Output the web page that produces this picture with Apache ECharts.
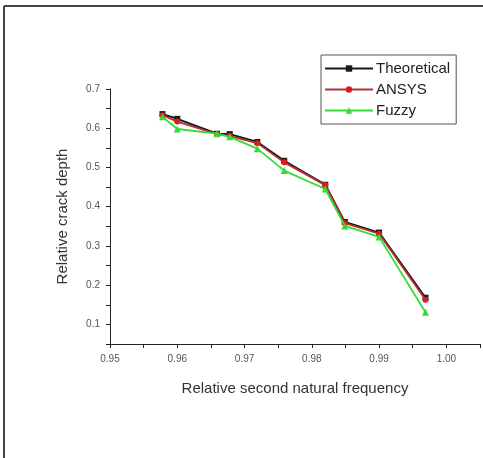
<!DOCTYPE html>
<html><head><meta charset="utf-8">
<script src="https://cdn.jsdelivr.net/npm/echarts@6/dist/echarts.min.js"></script>
<style>html,body{margin:0;padding:0;background:#fff}#c{width:483px;height:458px}</style>
</head><body><div id="c"></div>
<script>
const freq = [0.9578, 0.9600, 0.9659, 0.9678, 0.9719, 0.9759, 0.9820, 0.9849, 0.9900, 0.9969];
const theoretical = [0.636, 0.624, 0.586, 0.585, 0.565, 0.517, 0.456, 0.361, 0.334, 0.168];
const ansys = [0.633, 0.617, 0.585, 0.580, 0.562, 0.513, 0.455, 0.358, 0.331, 0.163];
const fuzzy = [0.629, 0.598, 0.586, 0.578, 0.548, 0.492, 0.445, 0.351, 0.323, 0.131];
const xTitle = 'Relative second natural frequency';
const yTitle = 'Relative crack depth';

const chart = echarts.init(document.getElementById('c'));
const pairs = a => freq.map((x, i) => [x, a[i]]);
const font = 'Liberation Sans, Arial, sans-serif';
chart.setOption({
  animation: false,
  backgroundColor: '#fff',
  grid: { left: 110, top: 89, right: -3, bottom: 114, containLabel: false },
  legend: {
    orient: 'vertical', left: 321, top: 55,
    padding: [6, 6, 6, 3],
    itemWidth: 48, itemHeight: 8, itemGap: 6,
    borderColor: '#555', borderWidth: 1,
    textStyle: { fontFamily: font, fontSize: 15, color: '#222', padding: [0, 0, 0, -2] },
    data: ['Theoretical', 'ANSYS', 'Fuzzy']
  },
  xAxis: {
    type: 'value', min: 0.95, max: 1.005, interval: 0.005,
    name: xTitle, nameLocation: 'middle', nameGap: 37,
    nameTextStyle: { fontFamily: font, fontSize: 15, color: '#333' },
    axisLine: { show: true, lineStyle: { color: '#222', width: 1 } },
    axisTick: { show: true, inside: false, length: 4, lineStyle: { color: '#222' } },
    splitLine: { show: false },
    axisLabel: {
      fontFamily: font, fontSize: 10, color: '#555', margin: 10,
      formatter: v => (Math.round(v * 1000) % 10 === 0 ? v.toFixed(2) : '')
    }
  },
  yAxis: {
    type: 'value', min: 0.05, max: 0.7, interval: 0.05,
    name: yTitle, nameLocation: 'middle', nameGap: 40, nameRotate: 90,
    nameTextStyle: { fontFamily: font, fontSize: 15, color: '#333' },
    axisLine: { show: true, lineStyle: { color: '#222', width: 1 } },
    axisTick: { show: true, inside: false, length: 4, lineStyle: { color: '#222' } },
    splitLine: { show: false },
    axisLabel: {
      fontFamily: font, fontSize: 10, color: '#555', margin: 10,
      formatter: v => (Math.round(v * 100) % 10 === 0 ? v.toFixed(1) : '')
    }
  },
  graphic: [
    { type: 'line', shape: { x1: 4, y1: 6, x2: 483, y2: 6 }, style: { stroke: '#444', lineWidth: 2 } },
    { type: 'line', shape: { x1: 4, y1: 6, x2: 4, y2: 458 }, style: { stroke: '#444', lineWidth: 2 } }
  ],
  series: [
    { name: 'Theoretical', type: 'line', data: pairs(theoretical), symbol: 'rect', symbolSize: 6,
      itemStyle: { color: '#1a1a1a' }, lineStyle: { color: '#1a1a1a', width: 2 }, z: 2 },
    { name: 'ANSYS', type: 'line', data: pairs(ansys), symbol: 'circle', symbolSize: 6,
      itemStyle: { color: '#d81e1e' }, lineStyle: { color: '#b83030', width: 1.8 }, z: 3 },
    { name: 'Fuzzy', type: 'line', data: pairs(fuzzy), symbol: 'triangle', symbolSize: 7,
      itemStyle: { color: '#33dd33' }, lineStyle: { color: '#33dd33', width: 1.8 }, z: 4 }
  ]
});
</script></body></html>
